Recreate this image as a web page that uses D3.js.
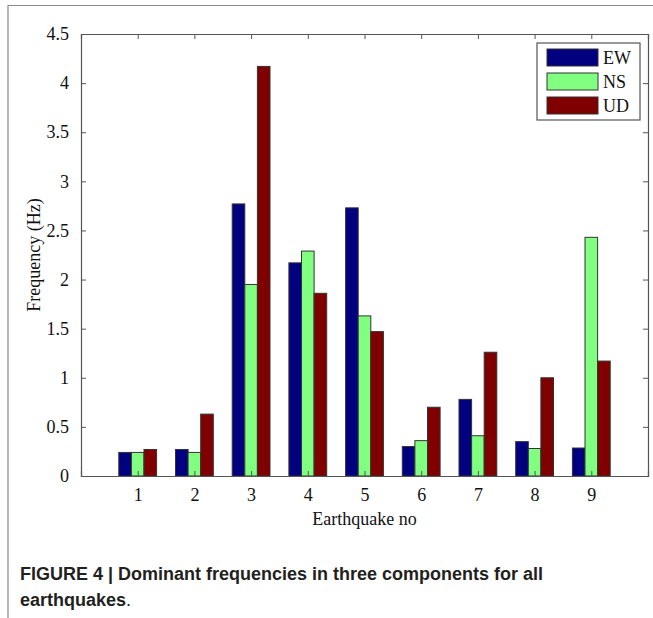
<!DOCTYPE html>
<html lang="en">
<head>
<meta charset="UTF-8">
<title>Dominant frequencies</title>
<script src="https://d3js.org/d3.v7.min.js"></script>
<style>
    body { margin: 0; background: #fff; }
    .tick-label { font-family: "Liberation Serif", "Times New Roman", serif; font-size: 18px; fill: #111; }
    .caption { font-family: "Liberation Sans", Arial, sans-serif; font-size: 18px; font-weight: bold; fill: #231f20; }
</style>
</head>
<body>
<svg width="653" height="618"></svg>
<script>
    // Chart data
    const quakes = [1, 2, 3, 4, 5, 6, 7, 8, 9];
    const ewValues = [0.24, 0.27, 2.77, 2.17, 2.73, 0.30, 0.78, 0.35, 0.285];
    const nsValues = [0.24, 0.24, 1.95, 2.29, 1.63, 0.36, 0.41, 0.28, 2.43];
    const udValues = [0.27, 0.63, 4.17, 1.86, 1.47, 0.70, 1.26, 1.00, 1.17];
    const seriesNames = ['EW', 'NS', 'UD'];
    const seriesColors = ['#000080', '#80ff80', '#800000'];
    const yTicks = [0, 0.5, 1, 1.5, 2, 2.5, 3, 3.5, 4, 4.5];

    const series = [ewValues, nsValues, udValues];

    const svg = d3.select('svg');

    // outer figure frame (top and left only)
    svg.append('path')
        .attr('d', 'M8,618 V5.5 H653')
        .attr('fill', 'none')
        .attr('stroke', '#8a8a8a')
        .attr('stroke-width', 1.2);

    const margin = { top: 34, right: 5, bottom: 142, left: 81 };
    const width = 653 - margin.left - margin.right;
    const height = 618 - margin.top - margin.bottom;

    const g = svg.append('g')
        .attr('transform', `translate(${margin.left},${margin.top})`);

    const x = d3.scaleLinear().domain([0, 10]).range([0, width]);
    const y = d3.scaleLinear().domain([0, 4.5]).range([height, 0]);

    // matlab grouped bar width
    const groupW = (x(1) - x(0)) * 3 / 4.5;
    const barW = groupW / 3;

    series.forEach((vals, si) => {
        g.selectAll('.bar-' + si)
            .data(vals)
            .join('rect')
            .attr('class', 'bar-' + si)
            .attr('x', (d, i) => x(quakes[i]) - groupW / 2 + si * barW)
            .attr('y', d => y(d))
            .attr('width', barW)
            .attr('height', d => y(0) - y(d))
            .attr('fill', seriesColors[si])
            .attr('stroke', '#333')
            .attr('stroke-width', 1);
    });

    // axes with inward ticks on all sides
    const tickLen = 5;
    g.append('g')
        .attr('transform', `translate(0,${height})`)
        .call(d3.axisBottom(x).tickValues(quakes).tickSize(-tickLen).tickPadding(12).tickFormat(d3.format('d')))
        .call(a => a.selectAll('text').attr('class', 'tick-label'));
    g.append('g')
        .call(d3.axisTop(x).tickValues(quakes).tickSize(-tickLen).tickFormat(''));
    g.append('g')
        .call(d3.axisLeft(y).tickValues(yTicks).tickSize(-tickLen).tickPadding(12).tickFormat(d => d))
        .call(a => a.selectAll('text').attr('class', 'tick-label'));
    g.append('g')
        .attr('transform', `translate(${width},0)`)
        .call(d3.axisRight(y).tickValues(yTicks).tickSize(-tickLen).tickFormat(''));

    g.selectAll('.domain').attr('stroke', '#555').attr('stroke-width', 1.2);
    g.selectAll('.tick line').attr('stroke', '#555');
    g.selectAll('.tick text').attr('font-family', null).attr('font-size', null).attr('fill', null);

    // axis titles
    g.append('text')
        .attr('class', 'tick-label')
        .attr('transform', `translate(-41,${height / 2}) rotate(-90)`)
        .attr('text-anchor', 'middle')
        .text('Frequency (Hz)');
    g.append('text')
        .attr('class', 'tick-label')
        .attr('x', width / 2)
        .attr('y', height + 49)
        .attr('text-anchor', 'middle')
        .text('Earthquake no');

    // legend
    const legend = g.append('g').attr('transform', `translate(${537 - margin.left},${43 - margin.top})`);
    legend.append('rect')
        .attr('width', 103).attr('height', 77)
        .attr('fill', '#fff').attr('stroke', '#555').attr('stroke-width', 1.2);
    seriesNames.forEach((name, i) => {
        const row = legend.append('g').attr('transform', `translate(10,${6 + i * 24})`);
        row.append('rect')
            .attr('width', 51).attr('height', 17)
            .attr('fill', seriesColors[i]).attr('stroke', '#333');
        row.append('text')
            .attr('class', 'tick-label')
            .attr('x', 56).attr('y', 15)
            .text(name);
    });

    // caption
    const cap = svg.append('text').attr('class', 'caption').attr('x', 20).attr('y', 580);
    cap.append('tspan').text('FIGURE 4 | Dominant frequencies in three components for all');
    const cap2 = svg.append('text').attr('class', 'caption').attr('x', 20).attr('y', 606);
    cap2.append('tspan').text('earthquakes');
    cap2.append('tspan').attr('font-weight', 'normal').text('.');
</script>
</body>
</html>
